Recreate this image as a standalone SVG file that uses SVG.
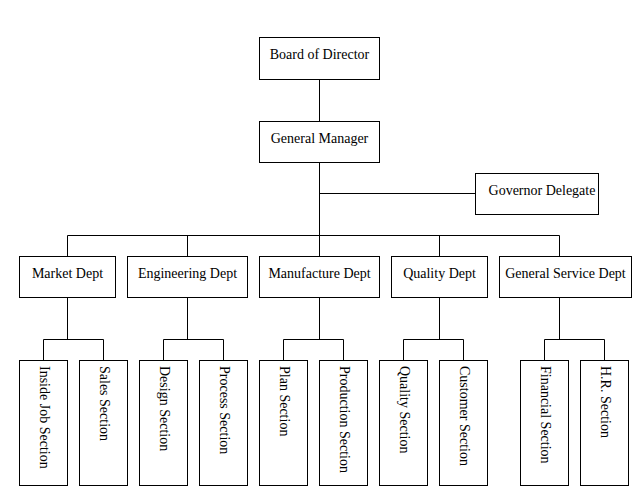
<svg xmlns="http://www.w3.org/2000/svg" width="640" height="500" viewBox="0 0 640 500">
<style>
rect{fill:#fff;stroke:#000;stroke-width:1}
.c line{stroke:#000;stroke-width:1}
text{font-family:"Liberation Serif","Times New Roman",serif;font-size:14px;fill:#000}
.m{text-anchor:middle}
</style>
<rect x="0" y="0" width="640" height="500" style="stroke:none"/>
<g class="c" id="connectors">
<line x1="319.5" y1="79.5" x2="319.5" y2="121.5"/>
<line x1="319.5" y1="162.5" x2="319.5" y2="256.5"/>
<line x1="319.5" y1="193.5" x2="475.5" y2="193.5"/>
<line x1="67.5" y1="235.5" x2="559.5" y2="235.5"/>
<line x1="67.5" y1="235.5" x2="67.5" y2="256.5"/>
<line x1="187.5" y1="235.5" x2="187.5" y2="256.5"/>
<line x1="439.5" y1="235.5" x2="439.5" y2="256.5"/>
<line x1="559.5" y1="235.5" x2="559.5" y2="256.5"/>
<line x1="67.5" y1="297.5" x2="67.5" y2="339.5"/>
<line x1="187.5" y1="297.5" x2="187.5" y2="339.5"/>
<line x1="319.5" y1="297.5" x2="319.5" y2="339.5"/>
<line x1="439.5" y1="297.5" x2="439.5" y2="339.5"/>
<line x1="559.5" y1="297.5" x2="559.5" y2="339.5"/>
<line x1="43.5" y1="339.5" x2="103.5" y2="339.5"/>
<line x1="163.5" y1="339.5" x2="223.5" y2="339.5"/>
<line x1="283.5" y1="339.5" x2="343.5" y2="339.5"/>
<line x1="403.5" y1="339.5" x2="463.5" y2="339.5"/>
<line x1="544.5" y1="339.5" x2="604.5" y2="339.5"/>
<line x1="43.5" y1="339.5" x2="43.5" y2="360.5"/>
<line x1="103.5" y1="339.5" x2="103.5" y2="360.5"/>
<line x1="163.5" y1="339.5" x2="163.5" y2="360.5"/>
<line x1="223.5" y1="339.5" x2="223.5" y2="360.5"/>
<line x1="283.5" y1="339.5" x2="283.5" y2="360.5"/>
<line x1="343.5" y1="339.5" x2="343.5" y2="360.5"/>
<line x1="403.5" y1="339.5" x2="403.5" y2="360.5"/>
<line x1="463.5" y1="339.5" x2="463.5" y2="360.5"/>
<line x1="544.5" y1="339.5" x2="544.5" y2="360.5"/>
<line x1="604.5" y1="339.5" x2="604.5" y2="360.5"/>
</g>
<g id="board"><rect x="259.5" y="37.5" width="120" height="42"/><text class="m" x="319.5" y="59">Board of Director</text></g>
<g id="gm"><rect x="259.5" y="121.5" width="120" height="41"/><text class="m" x="319.5" y="143">General Manager</text></g>
<g id="governor"><rect x="475.5" y="173.5" width="123" height="41"/><text class="m" x="542" y="195">Governor Delegate</text></g>
<g id="market"><rect x="19.5" y="256.5" width="96" height="41"/><text class="m" x="67.5" y="278">Market Dept</text></g>
<g id="engineering"><rect x="127.5" y="256.5" width="120" height="41"/><text class="m" x="187.5" y="278">Engineering Dept</text></g>
<g id="manufacture"><rect x="259.5" y="256.5" width="120" height="41"/><text class="m" x="319.5" y="278">Manufacture Dept</text></g>
<g id="quality"><rect x="391.5" y="256.5" width="96" height="41"/><text class="m" x="439.5" y="278">Quality Dept</text></g>
<g id="general-service"><rect x="499.5" y="256.5" width="132" height="41"/><text class="m" x="565.5" y="278">General Service Dept</text></g>
<g id="inside-job"><rect x="19.5" y="360.5" width="48" height="125"/><text transform="translate(40,366) rotate(90)">Inside Job Section</text></g>
<g id="sales"><rect x="79.5" y="360.5" width="48" height="125"/><text transform="translate(100,366) rotate(90)">Sales Section</text></g>
<g id="design"><rect x="139.5" y="360.5" width="48" height="125"/><text transform="translate(160,366) rotate(90)">Design Section</text></g>
<g id="process"><rect x="199.5" y="360.5" width="48" height="125"/><text transform="translate(220,366) rotate(90)">Process Section</text></g>
<g id="plan"><rect x="259.5" y="360.5" width="48" height="125"/><text transform="translate(280,366) rotate(90)">Plan Section</text></g>
<g id="production"><rect x="319.5" y="360.5" width="48" height="125"/><text transform="translate(340,366) rotate(90)">Production Section</text></g>
<g id="quality-section"><rect x="379.5" y="360.5" width="48" height="125"/><text transform="translate(400,366) rotate(90)">Quality Section</text></g>
<g id="customer"><rect x="439.5" y="360.5" width="48" height="125"/><text transform="translate(460,366) rotate(90)">Customer Section</text></g>
<g id="financial"><rect x="520.5" y="360.5" width="48" height="125"/><text transform="translate(541,366) rotate(90)">Financial Section</text></g>
<g id="hr"><rect x="580.5" y="360.5" width="48" height="125"/><text transform="translate(601,366) rotate(90)">H.R. Section</text></g>
</svg>
